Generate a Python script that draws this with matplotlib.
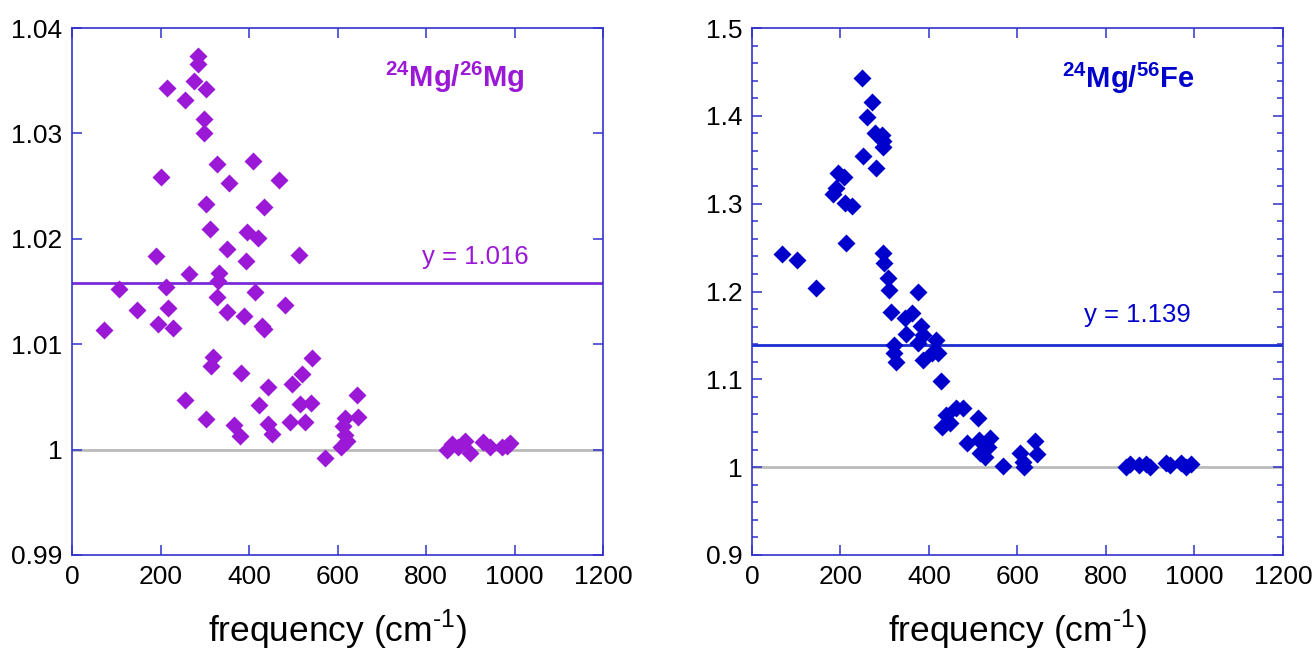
import numpy as np
import matplotlib.pyplot as plt
from matplotlib.ticker import MultipleLocator, FixedLocator

plt.rcParams['font.family'] = ['Liberation Sans', 'DejaVu Sans']
plt.rcParams['mathtext.fontset'] = 'custom'
plt.rcParams['mathtext.rm'] = 'Liberation Sans'
plt.rcParams['mathtext.bf'] = 'Liberation Sans:bold'

# --- 24Mg/26Mg (left) ---
mg_freq = [72, 107, 148, 189, 194, 212, 218, 229, 265, 256, 303, 312, 333, 329, 328, 318, 315,
           350, 350, 365, 380, 382, 393, 389, 420, 414, 423, 444, 429, 434, 444, 452, 481, 493,
           498, 514, 515, 520, 527, 539, 543, 571, 643, 647, 617, 613, 617, 621, 609,
           284, 284, 276, 215, 302, 255, 299, 299, 327, 408, 201, 355, 468, 302, 434, 395,
           847, 858, 872, 888, 899, 929, 945, 971, 982, 990]
mg_ratio = [1.0113, 1.0152, 1.0132, 1.0184, 1.0119, 1.0154, 1.0134, 1.0115, 1.0167, 1.0047,
            1.0029, 1.0209, 1.0168, 1.0160, 1.0145, 1.0088, 1.0079, 1.0190, 1.0131, 1.0023,
            1.0013, 1.0073, 1.0179, 1.0127, 1.0201, 1.0150, 1.0042, 1.0059, 1.0117, 1.0114,
            1.0024, 1.0015, 1.0137, 1.0026, 1.0062, 1.0185, 1.0043, 1.0072, 1.0026, 1.0044,
            1.0087, 0.9992, 1.0052, 1.0031, 1.0030, 1.0022, 1.0014, 1.0008, 1.0002,
            1.0373, 1.0366, 1.0350, 1.0343, 1.0342, 1.0332, 1.0314, 1.0300, 1.0271, 1.0274,
            1.0259, 1.0253, 1.0256, 1.0233, 1.0230, 1.0206,
            1.0000, 1.0005, 1.0002, 1.0008, 0.9997, 1.0007, 1.0002, 1.0002, 1.0003, 1.0006]
mg_mean = 1.0158

# --- 24Mg/56Fe (right) ---
fe_freq = [249, 272, 260, 278, 293, 297, 295, 251, 280, 194, 208, 190, 184, 210, 225, 212,
           67, 102, 144, 297, 299, 307, 310, 376, 314, 346, 361, 349, 383, 387, 376, 416,
           320, 320, 326, 421, 387, 406, 428, 462, 477, 439, 510, 448, 429, 487, 513, 537,
           534, 515, 527, 567, 606, 640, 643, 613, 614,
           845, 855, 875, 890, 900, 935, 945, 970, 980, 993]
fe_ratio = [1.443, 1.416, 1.399, 1.381, 1.378, 1.371, 1.364, 1.354, 1.341, 1.335, 1.330,
            1.318, 1.311, 1.301, 1.297, 1.255, 1.243, 1.236, 1.204, 1.244, 1.233, 1.215,
            1.202, 1.199, 1.177, 1.170, 1.176, 1.152, 1.161, 1.151, 1.141, 1.145,
            1.139, 1.130, 1.120, 1.130, 1.122, 1.130, 1.098, 1.067, 1.067, 1.059, 1.056,
            1.050, 1.046, 1.027, 1.031, 1.033, 1.023, 1.016, 1.012, 1.001, 1.016, 1.030,
            1.015, 1.006, 1.000,
            1.000, 1.004, 1.003, 1.004, 1.000, 1.005, 1.003, 1.005, 1.000, 1.004]
fe_mean = 1.139

spine_col = '#3232cc'

fig = plt.figure(figsize=(13.12, 6.51), dpi=100)
ax1 = fig.add_axes([72 / 1312, 1 - 555 / 651, 531 / 1312, 527 / 651])
ax2 = fig.add_axes([752 / 1312, 1 - 555 / 651, 531 / 1312, 527 / 651])


def style_axes(ax):
    for s in ax.spines.values():
        s.set_color(spine_col)
        s.set_linewidth(1.2)
    ax.tick_params(which='both', direction='in', top=True, right=True,
                   color=spine_col, labelsize=19, pad=7)
    ax.tick_params(which='major', length=7, width=1.1)
    ax.tick_params(which='minor', length=4, width=1.1)
    ax.set_xlim(0, 1200)
    ax.xaxis.set_major_locator(MultipleLocator(200))
    ax.set_xlabel('frequency (cm$^{\\text{-1}}$)', fontsize=25.5, labelpad=14)


# left panel
ax1.axhline(1.0, color='#bbbbbb', lw=2, zorder=1)
ax1.axhline(mg_mean, color='#7a2ad8', lw=2, zorder=1)
ax1.plot(mg_freq, mg_ratio, 'D', color='#9a18d6', ms=8.8, mec='none', zorder=3)
ax1.set_ylim(0.99, 1.04)
ax1.yaxis.set_major_locator(FixedLocator([0.99, 1.0, 1.01, 1.02, 1.03, 1.04]))
ax1.set_yticklabels(['0.99', '1', '1.01', '1.02', '1.03', '1.04'])
style_axes(ax1)
ax1.text(866, 1.0353, '$\\mathbf{^{24}Mg/^{26}Mg}$', color='#9a18d6', fontsize=21,
         ha='center', va='center')
ax1.text(911, 1.0183, 'y = 1.016', color='#9a18d6', fontsize=18.5, ha='center', va='center')

# right panel
ax2.axhline(1.0, color='#bbbbbb', lw=2, zorder=1)
ax2.axhline(fe_mean, color='#1a2ed0', lw=2, zorder=1)
ax2.plot(fe_freq, fe_ratio, 'D', color='#0000cc', ms=8.8, mec='none', zorder=3)
ax2.set_ylim(0.9, 1.5)
ax2.yaxis.set_major_locator(FixedLocator([0.9, 1.0, 1.1, 1.2, 1.3, 1.4, 1.5]))
ax2.set_yticklabels(['0.9', '1', '1.1', '1.2', '1.3', '1.4', '1.5'])
ax2.yaxis.set_minor_locator(MultipleLocator(0.02))
style_axes(ax2)
ax2.text(850, 1.443, '$\\mathbf{^{24}Mg/^{56}Fe}$', color='#0000cc', fontsize=21,
         ha='center', va='center')
ax2.text(872, 1.173, 'y = 1.139', color='#0000cc', fontsize=18.5, ha='center', va='center')

fig.savefig('out.png', dpi=100)
